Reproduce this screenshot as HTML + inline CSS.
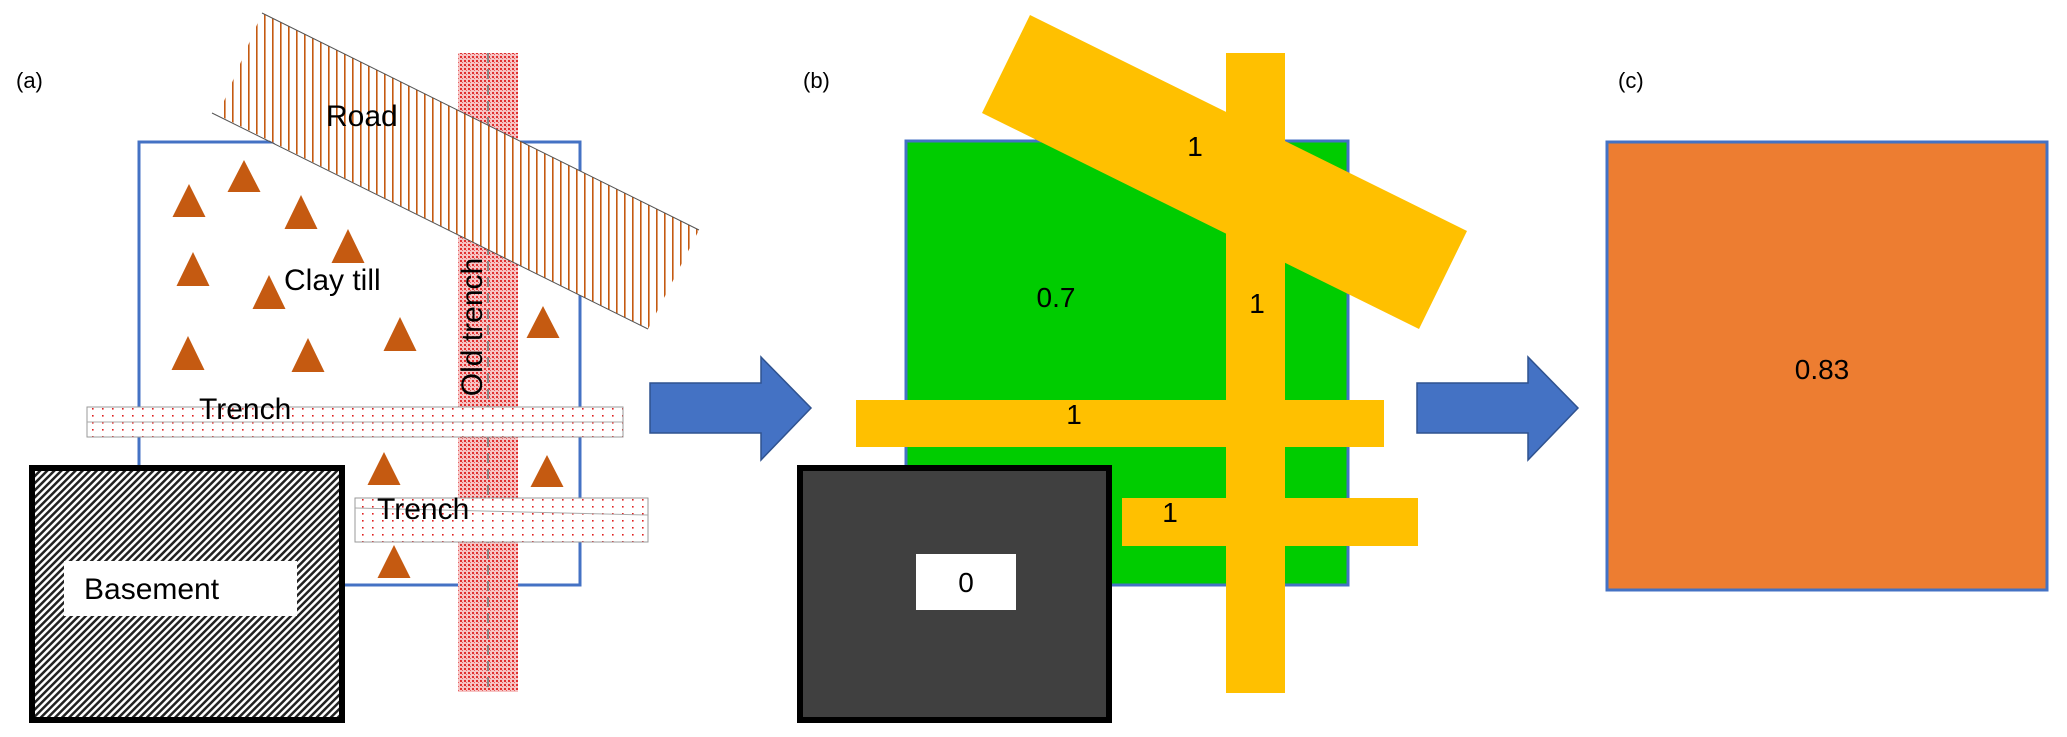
<!DOCTYPE html>
<html><head><meta charset="utf-8"><style>
html,body{margin:0;padding:0;background:#fff;}
svg{display:block;font-family:"Liberation Sans",Arial,sans-serif;}
</style></head><body>
<svg width="2067" height="737" viewBox="0 0 2067 737" xmlns="http://www.w3.org/2000/svg">
<defs>
<pattern id="road" width="8" height="8" patternUnits="userSpaceOnUse"><rect width="8" height="8" fill="#fff"/><rect x="0" y="0" width="1.6" height="8" fill="#C55A11"/></pattern>
<pattern id="dots" width="10" height="7" patternUnits="userSpaceOnUse"><rect width="10" height="7" fill="#fff"/><rect x="2" y="2" width="1.6" height="1.6" fill="#e02020"/></pattern>
<pattern id="old" width="4" height="4" patternUnits="userSpaceOnUse"><rect width="4" height="4" fill="#f7c4c4"/><rect x="0" y="0" width="2" height="2" fill="#e03030"/><rect x="2" y="2" width="1" height="1" fill="#e86060"/></pattern>
<pattern id="hatch" width="5" height="5" patternUnits="userSpaceOnUse" patternTransform="rotate(45)"><rect width="5" height="5" fill="#fff"/><rect x="0" y="0" width="2.5" height="5" fill="#222"/></pattern>
</defs>

<!-- Panel a -->
<text x="16" y="88" font-size="22">(a)</text>
<rect x="139" y="142" width="441" height="443" fill="none" stroke="#4472C4" stroke-width="3"/>
<g fill="#C55A11">
<polygon points="244,160 227.5,192 260.5,192"/>
<polygon points="189,184 172.5,217 205.5,217"/>
<polygon points="301,195 284.5,229 317.5,229"/>
<polygon points="348,229 331.5,263 364.5,263"/>
<polygon points="193,252 176.5,286 209.5,286"/>
<polygon points="269,275 252.5,309 285.5,309"/>
<polygon points="400,317 383.5,351 416.5,351"/>
<polygon points="188,336 171.5,370 204.5,370"/>
<polygon points="308,338 291.5,372 324.5,372"/>
<polygon points="543,306 526.5,338 559.5,338"/>
<polygon points="384,452 367.5,485 400.5,485"/>
<polygon points="547,455 530.5,487 563.5,487"/>
<polygon points="394,545 377.5,578 410.5,578"/>
</g>
<!-- old trench -->
<rect x="458" y="53" width="60" height="639" fill="url(#old)"/>
<line x1="488" y1="53" x2="488" y2="692" stroke="#888" stroke-width="2" stroke-dasharray="10,6"/>
<text transform="translate(482,327) rotate(-90)" text-anchor="middle" font-size="30">Old trench</text>
<!-- road -->
<polygon points="262,13 699,230 648,329 218,115" fill="url(#road)"/>
<line x1="262" y1="13" x2="699" y2="230" stroke="#555" stroke-width="1"/>
<line x1="212" y1="113" x2="648" y2="329" stroke="#555" stroke-width="1"/>
<text x="326" y="126" font-size="30">Road</text>
<text x="284" y="290" font-size="30">Clay till</text>
<!-- trenches -->
<rect x="87" y="407" width="536" height="30" fill="url(#dots)" stroke="#999" stroke-width="1"/>
<line x1="87" y1="422" x2="623" y2="422" stroke="#aaa" stroke-width="1"/>
<text x="199" y="419" font-size="30">Trench</text>
<rect x="355" y="498" width="293" height="44" fill="url(#dots)" stroke="#999" stroke-width="1"/>
<line x1="355" y1="508" x2="648" y2="515" stroke="#aaa" stroke-width="1"/>
<text x="377" y="519" font-size="30">Trench</text>
<!-- basement -->
<rect x="32" y="468" width="310" height="252" fill="url(#hatch)" stroke="#000" stroke-width="6"/>
<rect x="64" y="561" width="233" height="55" fill="#fff"/>
<text x="84" y="599" font-size="30">Basement</text>

<!-- arrow 1 -->
<polygon points="650,383 761,383 761,357 811,408 761,460 761,433 650,433" fill="#4472C4" stroke="#2F528F" stroke-width="1.5"/>

<!-- Panel b -->
<text x="803" y="88" font-size="22">(b)</text>
<rect x="906" y="141" width="442" height="444" fill="#00CC00" stroke="#4472C4" stroke-width="3"/>
<rect x="1226" y="53" width="59" height="640" fill="#FFC000"/>
<polygon points="1030,15 1467,231 1419,329 982,113" fill="#FFC000"/>
<rect x="856" y="400" width="528" height="47" fill="#FFC000"/>
<rect x="1122" y="498" width="296" height="48" fill="#FFC000"/>
<rect x="800" y="468" width="309" height="252" fill="#404040" stroke="#000" stroke-width="6"/>
<rect x="916" y="554" width="100" height="56" fill="#fff"/>
<g font-size="28" text-anchor="middle">
<text x="966" y="592">0</text>
<text x="1195" y="156">1</text>
<text x="1056" y="307">0.7</text>
<text x="1257" y="313">1</text>
<text x="1074" y="424">1</text>
<text x="1170" y="522">1</text>
</g>

<!-- arrow 2 -->
<polygon points="1417,383 1528,383 1528,357 1578,408 1528,460 1528,433 1417,433" fill="#4472C4" stroke="#2F528F" stroke-width="1.5"/>

<!-- Panel c -->
<text x="1618" y="88" font-size="22">(c)</text>
<rect x="1607" y="142" width="440" height="448" fill="#ED7D31" stroke="#4472C4" stroke-width="3"/>
<text x="1822" y="379" font-size="28" text-anchor="middle">0.83</text>
</svg>
</body></html>
